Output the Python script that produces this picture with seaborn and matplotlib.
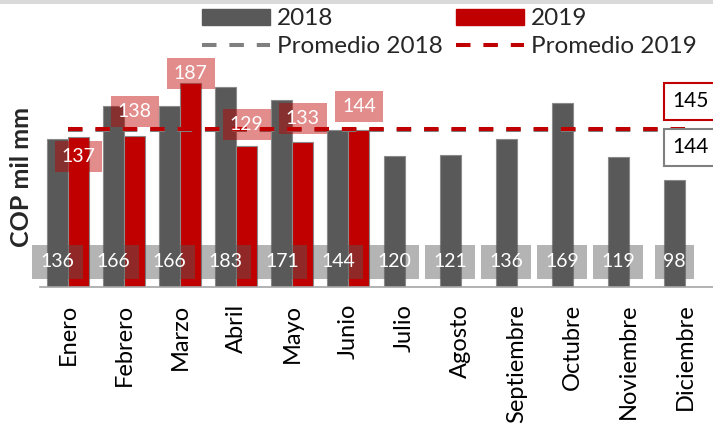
import matplotlib
matplotlib.use("Agg")
import matplotlib.pyplot as plt
from matplotlib.patches import Rectangle, Patch
from matplotlib.lines import Line2D
import seaborn as sns
import numpy as np
import pandas as pd

months = ["Enero", "Febrero", "Marzo", "Abril", "Mayo", "Junio", "Julio",
          "Agosto", "Septiembre", "Octubre", "Noviembre", "Diciembre"]
values_2018 = [136, 166, 166, 183, 171, 144, 120, 121, 136, 169, 119, 98]
values_2019 = [137, 138, 187, 129, 133, 144]
avg_2018 = 144
avg_2019 = 145
series = ["2018", "2019"]
avg_labels = ["Promedio 2018", "Promedio 2019"]

FONT = "Lato"

sns.set_theme(style="white")
plt.rcParams["font.family"] = [FONT, "DejaVu Sans"]

GREY = "#595959"
RED = "#c00000"

rows = []
for i, m in enumerate(months):
    rows.append({"mes": m, "anio": "2018", "valor": values_2018[i]})
    v19 = values_2019[i] if i < len(values_2019) else np.nan
    rows.append({"mes": m, "anio": "2019", "valor": v19})
df = pd.DataFrame(rows)

fig = plt.figure(figsize=(7.13, 4.32), dpi=100)
ax = fig.add_axes([40 / 713, 1 - 287 / 432, 673 / 713, 287 / 432])

sns.barplot(data=df, x="mes", y="valor", hue="anio", order=months,
            hue_order=series, palette=[GREY, RED], width=0.75, gap=0,
            dodge=True, ax=ax, legend=False, zorder=2, saturation=1,
            edgecolor="#8a8a8a", linewidth=0.8)

ax.set_xlim(-0.5, 11.5)
ax.set_ylim(0, 263)
ax.set_yticks([])
ax.set_xlabel("")
ax.set_ylabel("")
for s in ["top", "right", "left"]:
    ax.spines[s].set_visible(False)
ax.spines["bottom"].set_color("#a6a6a6")
ax.spines["bottom"].set_linewidth(1.2)
ax.tick_params(axis="x", length=0, pad=12)
ax.set_xticks(range(len(months)))
ax.set_xticklabels(months, rotation=90, fontsize=17, color="black")

bars18 = ax.containers[0]
bars19 = ax.containers[1]

# average lines
xs = np.arange(len(months))
ax.plot([xs[0], xs[-1]], [avg_2018, avg_2018], color="#7f7f7f", lw=2.9,
        ls=(0, (3.6, 3.2)), zorder=4)
ax.plot([xs[0], xs[-1]], [avg_2019, avg_2019], color=RED, lw=2.9,
        ls=(0, (3.6, 3.2)), zorder=4)

# 2018 labels at bottom
for rect, v in zip(bars18, values_2018):
    cx = rect.get_x() + rect.get_width() / 2
    ax.text(cx, 23, f"{v}", ha="center", va="center", fontsize=14,
            color="white", zorder=5,
            bbox=dict(boxstyle="square,pad=0.42", fc=GREY, ec="none", alpha=0.45))

# 2019 labels
label19_y = [120, 161, 196, 149, 154, 165]
for rect, v, ly in zip(list(bars19)[:len(values_2019)], values_2019, label19_y):
    cx = rect.get_x() + rect.get_width() / 2
    ax.text(cx, ly, f"{v}", ha="center", va="center", fontsize=14,
            color="white", zorder=5,
            bbox=dict(boxstyle="square,pad=0.36", fc=RED, ec="none", alpha=0.45))

# average value labels at right
ax.text(11.1, 170, f"{avg_2019}", ha="center", va="center", fontsize=15,
        color="black", zorder=6, clip_on=False,
        bbox=dict(boxstyle="square,pad=0.4", fc="white", ec=RED, lw=1.5))
ax.text(11.1, 128, f"{avg_2018}", ha="center", va="center", fontsize=15,
        color="black", zorder=6, clip_on=False,
        bbox=dict(boxstyle="square,pad=0.4", fc="white", ec="#7f7f7f", lw=1.5))

# y label
fig.text(22 / 713, 1 - 177 / 432, "COP mil mm", rotation=90, ha="center",
         va="center", fontsize=18, fontweight="bold")

# legend
handles = [Patch(color=GREY), Line2D([], [], color="#7f7f7f", lw=2.9, ls=(0, (3.6, 3.2))),
           Patch(color=RED), Line2D([], [], color=RED, lw=2.9, ls=(0, (3.6, 3.2)))]
labels = [series[0], avg_labels[0], series[1], avg_labels[1]]
fig.legend(handles, labels, ncol=2, loc="upper left",
           bbox_to_anchor=(200 / 713, 1 - 6 / 432), frameon=False,
           fontsize=17.5, handlelength=2.8, handleheight=0.65,
           handletextpad=0.28, columnspacing=0.55, labelspacing=0.28,
           borderaxespad=0, borderpad=0.1)

# top grey strip
fig.patches.append(Rectangle((0, 1 - 4 / 432), 1, 4 / 432, transform=fig.transFigure,
                             fc="#d9d9d9", ec="none", figure=fig))

fig.savefig("out.png", dpi=100)
